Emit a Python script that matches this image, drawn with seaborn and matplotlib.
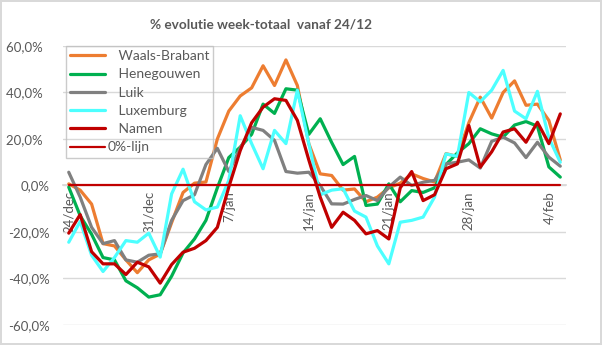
import matplotlib
matplotlib.use("Agg")
import matplotlib.pyplot as plt
import seaborn as sns
import pandas as pd
import numpy as np

# Daily categories, 24/dec through 5/feb
dates = pd.date_range("2020-12-24", periods=44).strftime("%d/%m").tolist()

waals_brabant = [0.7, -2, -8, -25, -26, -32, -37.5, -32, -29.5, -16, -3, 1, 1.5, 20,
                 32, 38.5, 42, 51.5, 43, 54, 43, 18, 5, 4.3, -2, -1.5, -7, -5,
                 -1, 1, 5, 3, 1.5, 13.7, 12.5, 27, 38, 29, 40, 45, 34.5, 35, 28, 11]
henegouwen = [-0.7, -13, -21, -31, -32, -41, -44, -48, -47, -39, -29, -23, -15, -1,
              12, 16.5, 22, 35, 31, 41.6, 41, 22, 28.7, 18.5, 9, 12.5, -8.6, -8,
              0.7, -7, -2.2, -3, -1, 9, 14, 18, 24.4, 22.2, 20.8, 26, 27.5, 25.5, 8, 3.6]
luik = [5.7, -5, -18, -25, -23.7, -32, -33, -30, -29.4, -15, -6.5, -4, 9, 16,
        6, 16, 25, 23.7, 19.4, 6, 5.3, 5.7, 0, -7.9, -8, -6, -4.3, -6.5,
        -0.7, 3.6, 0, 1.4, 2.2, 9.3, 10, 11, 7.5, 19, 20.8, 18.3, 12, 18.6, 12.2, 8.3]
luxemburg = [-24.4, -15.5, -30, -37, -31, -23.7, -24.4, -20.5, -30.8, -3.6, 7, -7, -10.5, -9.3,
             2.2, 30, 18, 7.2, 23.7, 18, 41, 18, -4, -2, -1.4, -11, -13.6, -26,
             -33.7, -15.8, -15, -13.6, -5, 13.6, 12.5, 40, 36, 41, 49.5, 32, 28.7, 40.5, 20.5, 10]
namen = [-20.5, -12.5, -28.5, -33.7, -33.7, -38.3, -33, -35, -42, -34, -28.7, -27, -23.7, -18,
         -0.7, 15, 27, 33.7, 37.3, 36.6, 28, 11, -5, -18, -11.5, -15, -20.8, -19.4,
         -23, -1, 6, -6.5, -4, 7.2, 9.3, 25.8, 7.9, 14.5, 23, 24.4, 18.6, 27.2, 18, 30.8]
nul_lijn = [0.0] * len(dates)

regions = ["Waals-Brabant", "Henegouwen", "Luik", "Luxemburg", "Namen"]
colors = ["#ED7D31", "#00B050", "#808080", "#4DFFFF", "#C00000"]

tick_pos = [0, 7, 14, 21, 28, 35, 42]
tick_labels = ["24/dec", "31/dec", "7/jan", "14/jan", "21/jan", "28/jan", "4/feb"]
y_ticks = [-60, -40, -20, 0, 20, 40, 60]


def pct_label(v):
    # positive values carry a trailing gap, like a "0,0% ;-0,0%" number format
    txt = f"{v:.1f}%".replace(".", ",")
    return txt + "  " if v > 0 else txt


values = {"Waals-Brabant": waals_brabant, "Henegouwen": henegouwen, "Luik": luik,
          "Luxemburg": luxemburg, "Namen": namen}
df = pd.concat(
    [pd.DataFrame({"dag": np.arange(len(dates)), "datum": dates, "regio": r, "pct": values[r]})
     for r in regions],
    ignore_index=True,
)

sns.set_theme(style="white")
plt.rcParams["font.family"] = ["Lato", "DejaVu Sans"]

fig = plt.figure(figsize=(6.02, 3.45), dpi=100)
fig.patch.set_facecolor("white")
fig.patch.set_edgecolor("#d9d9d9")
fig.patch.set_linewidth(1.5)
ax = fig.add_axes([0.1047, 0.058, 0.8355, 0.8087])

sns.lineplot(data=df, x="dag", y="pct", hue="regio", hue_order=regions,
             palette=colors, linewidth=2.3, ax=ax)
sns.lineplot(x=np.arange(len(dates)), y=nul_lijn, color="#C00000", linewidth=1.6,
             label="0%-lijn", ax=ax, zorder=3)

ax.set_xlim(-0.5, len(dates) - 0.5)
ax.set_ylim(-60, 60)
ax.set_xlabel("")
ax.set_ylabel("")

for s in ["top", "right", "left"]:
    ax.spines[s].set_visible(False)
ax.spines["bottom"].set_position(("data", 0))
ax.spines["bottom"].set_color("#d9d9d9")
ax.spines["bottom"].set_zorder(1)

ax.set_yticks(y_ticks)
ax.set_yticklabels([pct_label(v) for v in y_ticks])
ax.yaxis.grid(True, color="#d9d9d9", linewidth=1)
ax.set_axisbelow(True)
ax.tick_params(axis="y", length=0, labelsize=9.5, labelcolor="#595959", pad=9.5)

ax.set_xticks(tick_pos)
ax.set_xticklabels(tick_labels, rotation=90, va="top", ha="center")
ax.set_xticks([p - 0.5 for p in tick_pos], minor=True)
ax.tick_params(axis="x", which="major", length=0, labelsize=9.5, labelcolor="#595959", pad=4)
ax.tick_params(axis="x", which="minor", length=4, color="#bfbfbf", direction="out")

fig.text(0.434, 0.928, "% evolutie week-totaal  vanaf 24/12", ha="center", va="center",
         fontsize=9.8, fontweight="bold", color="#595959")

handles, labels = ax.get_legend_handles_labels()
labels = ["   " + l if l in regions else l for l in labels]
leg = ax.legend(handles, labels, loc="upper left", bbox_to_anchor=(0.006, 1.0),
                frameon=True, fancybox=False, facecolor="none", edgecolor="#bfbfbf",
                fontsize=10, handlelength=2.5, handletextpad=0.2, labelspacing=0.45,
                borderpad=0.3, borderaxespad=0.0, labelcolor="#595959")
leg.get_frame().set_linewidth(1)

fig.savefig("out.png", dpi=100)
